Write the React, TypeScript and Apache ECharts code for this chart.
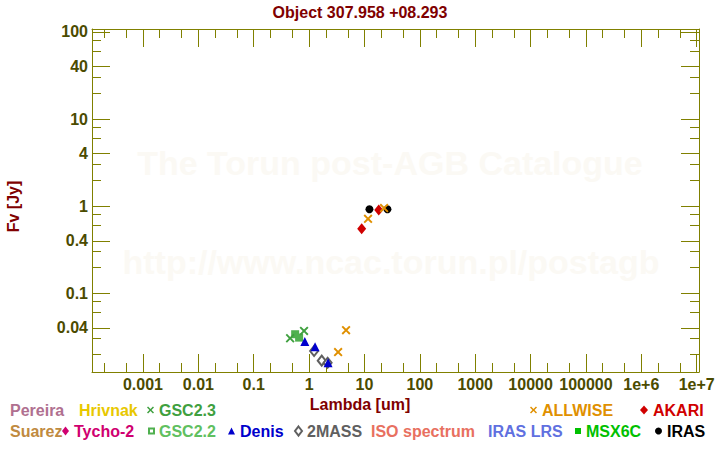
import React, { useEffect, useRef } from "react";
import * as echarts from "echarts";

// ---- data (wavelength in micron, flux in Jy) ----
const GSC23 = [[0.454, 0.0304], [0.81, 0.0369]];
const GSC22 = [[0.56, 0.0338], [0.66, 0.0309]];
const DENIS = [[0.836, 0.0278], [1.28, 0.0243], [2.2, 0.0159]];
const TWOMASS = [[1.23, 0.0217], [1.69, 0.0168], [2.16, 0.0159]];
const ALLWISE = [[3.34, 0.0211], [4.65, 0.0376], [11.6, 0.714], [22.6, 0.948]];
const AKARI = [[8.9, 0.548], [18.1, 0.9]];
const IRAS = [[12.3, 0.92], [26, 0.92]];

// ---- axes ----
const X_TICKS = [0.001, 0.01, 0.1, 1, 10, 100, 1000, 10000, 100000, 1e6, 1e7];
const X_LABELS = ["0.001", "0.01", "0.1", "1", "10", "100", "1000", "10000", "100000", "1e+6", "1e+7"];
const X_MINOR = [2e-4, 5e-4, 2e-3, 5e-3, 0.02, 0.05, 0.2, 0.5, 2, 5, 20, 50, 200, 500, 2000, 5000, 2e4, 5e4, 2e5, 5e5, 2e6, 5e6];
const Y_TICKS = [100, 40, 10, 4, 1, 0.4, 0.1, 0.04];
const Y_LABELS = ["100", "40", "10", "4", "1", "0.4", "0.1", "0.04"];
const Y_MINOR = [80, 60, 30, 20, 8, 6, 3, 2, 0.8, 0.6, 0.3, 0.2, 0.08, 0.06, 0.03, 0.02];
const X_RANGE = [1.2e-4, 1.1e7];
const Y_RANGE = [0.01245, 108];

const TITLE = "Object 307.958 +08.293";
const X_NAME = "Lambda [um]";
const Y_NAME = "Fv [Jy]";
const WATERMARK1 = "The Torun post-AGB Catalogue";
const WATERMARK2 = "http://www.ncac.torun.pl/postagb";

const FONT = "'Liberation Sans', Arial, Helvetica, sans-serif";
const OLIVE = "#808000";
const LABEL_COLOR = "#4b4b00";
const DARKRED = "#800000";
const WM_COLOR = "#fbf9f4";
const XSYM = "path://M0,1.5 L1.5,0 L5,3.5 L8.5,0 L10,1.5 L6.5,5 L10,8.5 L8.5,10 L5,6.5 L1.5,10 L0,8.5 L3.5,5 Z";

const lg = (v: number) => Math.log10(v);
const toLog = (arr: number[][]) => arr.map(([x, y]) => [lg(x), lg(y)]);

type SeriesDef = { name: string; data: number[][]; symbol: string; size: any; color: string };
const SERIES: SeriesDef[] = [
  { name: "Pereira", data: [], symbol: "none", size: 0, color: "#b07090" },
  { name: "Hrivnak", data: [], symbol: "none", size: 0, color: "#e8c800" },
  { name: "Suarez", data: [], symbol: "none", size: 0, color: "#c08a40" },
  { name: "Tycho-2", data: [], symbol: "diamond", size: [8, 10], color: "#d00070" },
  { name: "GSC2.2", data: GSC22, symbol: "rect", size: 8, color: "#4fb04f" },
  { name: "GSC2.3", data: GSC23, symbol: XSYM, size: 9, color: "#3fa03f" },
  { name: "2MASS", data: TWOMASS, symbol: "emptyDiamond", size: [8, 10], color: "#606060" },
  { name: "Denis", data: DENIS, symbol: "triangle", size: 9, color: "#0000cc" },
  { name: "ISO spectrum", data: [], symbol: "none", size: 0, color: "#e87060" },
  { name: "IRAS LRS", data: [], symbol: "none", size: 0, color: "#6070e0" },
  { name: "MSX6C", data: [], symbol: "rect", size: 7, color: "#00c000" },
  { name: "IRAS", data: IRAS, symbol: "circle", size: 8, color: "#000000" },
  { name: "AKARI", data: AKARI, symbol: "diamond", size: [9, 11], color: "#d00000" },
  { name: "ALLWISE", data: ALLWISE, symbol: XSYM, size: 9, color: "#e09000" },
];

// legend entries: name, text colour, icon, icon left, row top, icon width/height
const LEGEND: [string, string, string, number, number, number, number][] = [
  ["Pereira", "#b07090", "none", 5, 402, 0, 0],
  ["Hrivnak", "#e8c800", "none", 74, 402, 0, 0],
  ["GSC2.3", "#3fa03f", XSYM, 147, 402, 7, 7],
  ["ALLWISE", "#e09000", XSYM, 530, 402, 7, 7],
  ["AKARI", "#d00000", "diamond", 640, 402, 8, 9],
  ["Suarez", "#c08a40", "none", 5, 423, 0, 0],
  ["Tycho-2", "#d00070", "diamond", 62, 423, 7, 9],
  ["GSC2.2", "#60c060", "emptyRect", 148, 423, 5, 5],
  ["Denis", "#0000cc", "triangle", 228, 423, 7, 7],
  ["2MASS", "#606060", "emptyDiamond", 294, 423, 7, 9],
  ["ISO spectrum", "#e87060", "none", 366, 423, 0, 0],
  ["IRAS LRS", "#6070e0", "none", 483, 423, 0, 0],
  ["MSX6C", "#00c000", "rect", 575, 423, 6, 6],
  ["IRAS", "#000000", "circle", 655, 423, 7, 7],
];

const textStyle = { fontFamily: FONT, fontWeight: "bold" as const, fontSize: 16 };

function makeXAxis(position: string, major: boolean, labels: boolean, line: boolean) {
  const vals = (major ? X_TICKS : X_MINOR).map(lg);
  return {
    type: "value",
    position,
    min: lg(X_RANGE[0]),
    max: lg(X_RANGE[1]),
    axisLine: { show: line, onZero: false, lineStyle: { color: OLIVE, width: 1 } },
    axisTick: { show: true, inside: true, length: major ? 18 : 9, customValues: vals, lineStyle: { color: OLIVE, width: 1 } },
    axisLabel: labels
      ? {
          show: true,
          customValues: vals,
          margin: 4,
          color: LABEL_COLOR,
          ...textStyle,
          formatter: (v: number) => {
            const i = X_TICKS.findIndex((t) => Math.abs(lg(t) - v) < 1e-6);
            return i >= 0 ? X_LABELS[i] : "";
          },
        }
      : { show: false },
    splitLine: { show: false },
    axisPointer: { show: false },
    ...(labels
      ? {
          name: X_NAME,
          nameLocation: "middle",
          nameGap: 24,
          nameTextStyle: { color: DARKRED, ...textStyle, padding: [0, 71, 0, 0] },
        }
      : {}),
  };
}

function makeYAxis(position: string, major: boolean, labels: boolean, line: boolean) {
  const vals = (major ? Y_TICKS : Y_MINOR).map(lg);
  return {
    type: "value",
    position,
    min: lg(Y_RANGE[0]),
    max: lg(Y_RANGE[1]),
    axisLine: { show: line, onZero: false, lineStyle: { color: OLIVE, width: 1 } },
    axisTick: { show: true, inside: true, length: major ? 18 : 9, customValues: vals, lineStyle: { color: OLIVE, width: 1 } },
    axisLabel: labels
      ? {
          show: true,
          customValues: vals,
          margin: 4,
          color: LABEL_COLOR,
          ...textStyle,
          formatter: (v: number) => {
            const i = Y_TICKS.findIndex((t) => Math.abs(lg(t) - v) < 1e-6);
            return i >= 0 ? Y_LABELS[i] : "";
          },
        }
      : { show: false },
    splitLine: { show: false },
    axisPointer: { show: false },
    ...(labels
      ? {
          name: Y_NAME,
          nameLocation: "middle",
          nameGap: 71,
          nameRotate: 90,
          nameTextStyle: { color: DARKRED, ...textStyle, padding: [0, 12, 0, 0] },
        }
      : {}),
  };
}

export default function App() {
  const ref = useRef<HTMLDivElement>(null);
  useEffect(() => {
    if (!ref.current) return;
    const chart = echarts.init(ref.current, null, { renderer: "svg" });
    const option: any = {
      animation: false,
      backgroundColor: "#ffffff",
      title: {
        text: TITLE,
        left: "center",
        top: 0,
        padding: [4, 5],
        textStyle: { color: DARKRED, ...textStyle },
      },
      grid: { left: 92, right: 21, top: 29, bottom: 78, containLabel: false, outerBoundsMode: "none" },
      xAxis: [
        makeXAxis("bottom", true, true, true),
        makeXAxis("bottom", false, false, false),
        makeXAxis("top", true, false, true),
        makeXAxis("top", false, false, false),
      ],
      yAxis: [
        makeYAxis("left", true, true, true),
        makeYAxis("left", false, false, false),
        makeYAxis("right", true, false, true),
        makeYAxis("right", false, false, false),
      ],
      legend: LEGEND.map(([name, color, icon, left, top, w, h]) => ({
        left,
        top,
        padding: 0,
        itemWidth: w,
        itemHeight: h || 1,
        selectedMode: false,
        data: [{ name, icon, textStyle: { color } }],
        textStyle: { ...textStyle, color },
      })),
      graphic: [
        {
          type: "text",
          z: -10,
          silent: true,
          style: { text: WATERMARK1, fill: WM_COLOR, font: `bold 34px ${FONT}`, x: 390, y: 163, align: "center", verticalAlign: "middle" },
        },
        {
          type: "text",
          z: -10,
          silent: true,
          style: { text: WATERMARK2, fill: WM_COLOR, font: `bold 34px ${FONT}`, x: 391, y: 262, align: "center", verticalAlign: "middle" },
        },
      ],
      series: SERIES.map((s) => ({
        name: s.name,
        type: "scatter",
        xAxisIndex: 0,
        yAxisIndex: 0,
        data: toLog(s.data),
        symbol: s.symbol,
        symbolSize: s.size,
        itemStyle: { color: s.color, opacity: 1, borderWidth: s.symbol === "emptyDiamond" ? 1 : 0 },
        emphasis: { disabled: true },
        z: 5,
      })),
    };
    chart.setOption(option);
    return () => chart.dispose();
  }, []);
  return (
    <div
      ref={ref}
      style={{ position: "fixed", left: 0, top: 0, width: 720, height: 450, background: "#fff" }}
    />
  );
}
